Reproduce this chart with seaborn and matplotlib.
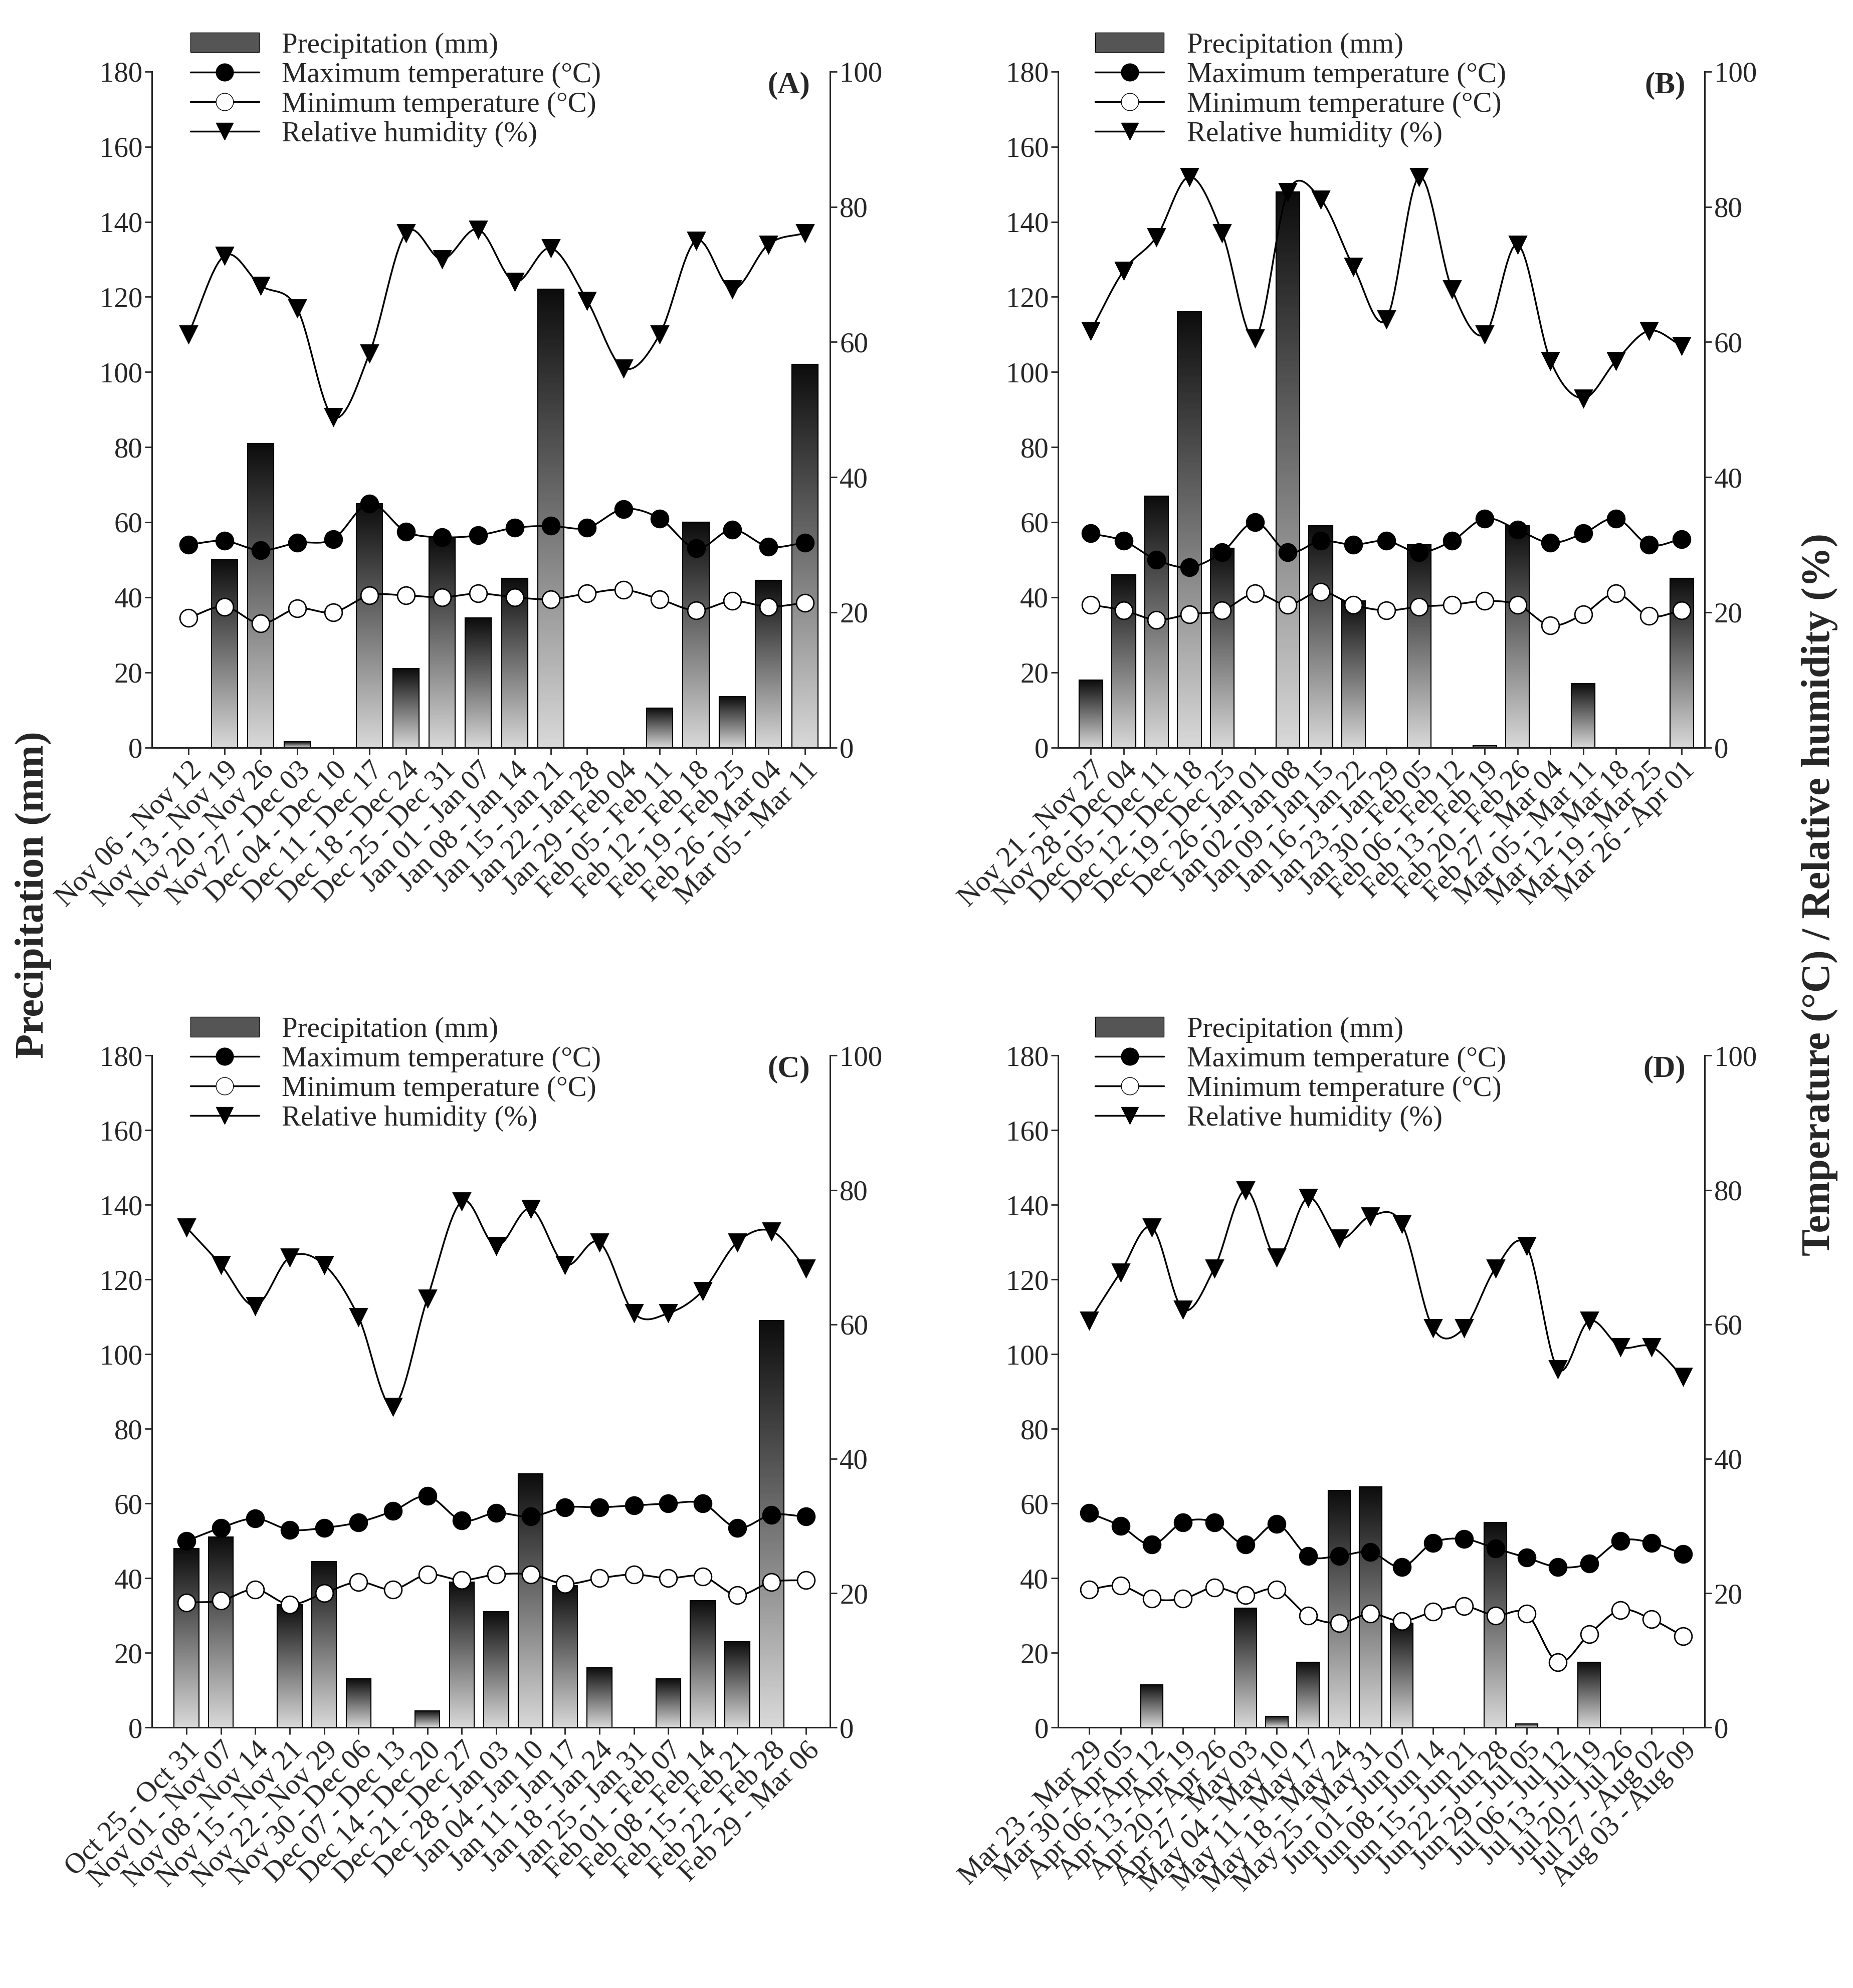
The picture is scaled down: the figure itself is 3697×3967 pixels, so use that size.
import numpy as np
import pandas as pd
import matplotlib
matplotlib.use('Agg')
import matplotlib.pyplot as plt
import seaborn as sns
from matplotlib.lines import Line2D
from matplotlib.patches import Patch

# ---- data (precipitation in mm, temperatures / RH read on left scale then converted) ----
labels_a = ['Nov 06 - Nov 12', 'Nov 13 - Nov 19', 'Nov 20 - Nov 26', 'Nov 27 - Dec 03', 'Dec 04 - Dec 10',
            'Dec 11 - Dec 17', 'Dec 18 - Dec 24', 'Dec 25 - Dec 31', 'Jan 01 - Jan 07', 'Jan 08 - Jan 14',
            'Jan 15 - Jan 21', 'Jan 22 - Jan 28', 'Jan 29 - Feb 04', 'Feb 05 - Feb 11', 'Feb 12 - Feb 18',
            'Feb 19 - Feb 25', 'Feb 26 - Mar 04', 'Mar 05 - Mar 11']
precip_a = [0, 50, 81, 1.5, 0, 65, 21, 56, 34.5, 45, 122, 0, 0, 10.5, 60, 13.5, 44.5, 102]
tmax_a = [54, 55, 52.5, 54.5, 55.5, 65, 57.5, 56, 56.5, 58.5, 59, 58.5, 63.5, 61, 53, 58, 53.5, 54.5]
tmin_a = [34.5, 37.5, 33, 37, 36, 40.5, 40.5, 40, 41, 40, 39.5, 41, 42, 39.5, 36.5, 39, 37.5, 38.5]
rh_a = [110, 131, 123, 117, 88, 105, 137, 130, 138, 124, 133, 119, 101, 110, 135, 122, 134, 137]

labels_b = ['Nov 21 - Nov 27', 'Nov 28 - Dec 04', 'Dec 05 - Dec 11', 'Dec 12 - Dec 18', 'Dec 19 - Dec 25',
            'Dec 26 - Jan 01', 'Jan 02 - Jan 08', 'Jan 09 - Jan 15', 'Jan 16 - Jan 22', 'Jan 23 - Jan 29',
            'Jan 30 - Feb 05', 'Feb 06 - Feb 12', 'Feb 13 - Feb 19', 'Feb 20 - Feb 26', 'Feb 27 - Mar 04',
            'Mar 05 - Mar 11', 'Mar 12 - Mar 18', 'Mar 19 - Mar 25', 'Mar 26 - Apr 01']
precip_b = [18, 46, 67, 116, 53, 0, 148, 59, 39, 0, 54, 0, 0.5, 59, 0, 17, 0, 0, 45]
tmax_b = [57, 55, 50, 48, 52, 60, 52, 55, 54, 55, 52, 55, 61, 58, 54.5, 57, 61, 54, 55.5]
tmin_b = [38, 36.5, 34, 35.5, 36.5, 41, 38, 41.5, 38, 36.5, 37.5, 38, 39, 38, 32.5, 35.5, 41, 35, 36.5]
rh_b = [111, 127, 136, 152, 137, 109, 148, 146, 128, 114, 152, 122, 110, 134, 103, 93, 103, 111, 107]

labels_c = ['Oct 25 - Oct 31', 'Nov 01 - Nov 07', 'Nov 08 - Nov 14', 'Nov 15 - Nov 21', 'Nov 22 - Nov 29',
            'Nov 30 - Dec 06', 'Dec 07 - Dec 13', 'Dec 14 - Dec 20', 'Dec 21 - Dec 27', 'Dec 28 - Jan 03',
            'Jan 04 - Jan 10', 'Jan 11 - Jan 17', 'Jan 18 - Jan 24', 'Jan 25 - Jan 31', 'Feb 01 - Feb 07',
            'Feb 08 - Feb 14', 'Feb 15 - Feb 21', 'Feb 22 - Feb 28', 'Feb 29 - Mar 06']
precip_c = [48, 51, 0, 33, 44.5, 13, 0, 4.5, 39, 31, 68, 38, 16, 0, 13, 34, 23, 109, 0]
tmax_c = [50, 53.5, 56, 53, 53.5, 55, 58, 62, 55.5, 57.5, 56.5, 59, 59, 59.5, 60, 60, 53.5, 57, 56.5]
tmin_c = [33.5, 34, 37, 33, 36, 39, 37, 41, 39.5, 41, 41, 38.5, 40, 41, 40, 40.5, 35.5, 39, 39.5]
rh_c = [134, 124, 113, 126, 124, 110, 86, 115, 141, 129, 139, 124, 130, 111, 111, 117, 130, 133, 123]

labels_d = ['Mar 23 - Mar 29', 'Mar 30 - Apr 05', 'Apr 06 - Apr 12', 'Apr 13 - Apr 19', 'Apr 20 - Apr 26',
            'Apr 27 - May 03', 'May 04 - May 10', 'May 11 - May 17', 'May 18 - May 24', 'May 25 - May 31',
            'Jun 01 - Jun 07', 'Jun 08 - Jun 14', 'Jun 15 - Jun 21', 'Jun 22 - Jun 28', 'Jun 29 - Jul 05',
            'Jul 06 - Jul 12', 'Jul 13 - Jul 19', 'Jul 20 - Jul 26', 'Jul 27 - Aug 02', 'Aug 03 - Aug 09']
precip_d = [0, 0, 11.5, 0, 0, 32, 3, 17.5, 63.5, 64.5, 28, 0, 0, 55, 1, 0, 17.5, 0, 0, 0]
tmax_d = [57.5, 54, 49, 55, 55, 49, 54.5, 46, 46, 47, 43, 49.5, 50.5, 48, 45.5, 43, 44, 50, 49.5, 46.5]
tmin_d = [37, 38, 34.5, 34.5, 37.5, 35.5, 37, 30, 28, 30.5, 28.5, 31, 32.5, 30, 30.5, 17.5, 25, 31.5, 29, 24.5]
rh_d = [109, 122, 134, 112, 123, 144, 126, 142, 131, 137, 135, 107, 107, 123, 129, 96, 109, 102, 102, 94]

FONT = 'Liberation Serif'
sns.set_style('ticks')
plt.rcParams['font.family'] = [FONT, 'DejaVu Serif']

TICK = 41


def smooth(x, y, k=12):
    # Catmull-Rom curve through the points, only for drawing the line
    x = np.asarray(x, float); y = np.asarray(y, float)
    px = np.concatenate([[2 * x[0] - x[1]], x, [2 * x[-1] - x[-2]]])
    py = np.concatenate([[2 * y[0] - y[1]], y, [2 * y[-1] - y[-2]]])
    t = np.linspace(0, 1, k, endpoint=False)[:, None]
    xs, ys = [], []
    for i in range(1, len(px) - 2):
        for p, out in ((px, xs), (py, ys)):
            p0, p1, p2, p3 = p[i - 1], p[i], p[i + 1], p[i + 2]
            v = 0.5 * (2 * p1 + (-p0 + p2) * t + (2 * p0 - 5 * p1 + 4 * p2 - p3) * t ** 2
                       + (-p0 + 3 * p1 - 3 * p2 + p3) * t ** 3)
            out.extend(v.ravel())
    xs.append(x[-1]); ys.append(y[-1])
    return np.array(xs), np.array(ys)


grad = np.linspace(0.05, 0.85, 256)[:, None]


def panel(ax, labels, precip, tmax, tmin, rh, tag):
    n = len(labels)
    df = pd.DataFrame({'week': labels, 'precip': precip})
    sns.barplot(data=df, x='week', y='precip', ax=ax, color='#888888', width=0.72,
                edgecolor='black', linewidth=1.5, zorder=2)
    for p in ax.patches:
        h = p.get_height()
        if h <= 0:
            continue
        x0 = p.get_x(); w = p.get_width()
        im = ax.imshow(grad, cmap='gray', vmin=0, vmax=1, aspect='auto',
                       extent=[x0, x0 + w, 0, h], origin='upper', zorder=2.5)
        im.set_clip_path(p)
        ax.add_patch(plt.Rectangle((x0, 0), w, h, fill=False, ec='black', lw=1.5, zorder=3))
    ax.set_xlim(-1, n - 0.3)
    ax.set_ylim(0, 180)
    ax.set_yticks(range(0, 181, 20))
    ax.set_xlabel(''); ax.set_ylabel('')
    ax.tick_params(axis='both', labelsize=TICK, width=2, length=10)
    ax.set_xticks(range(n))
    ax.set_xticklabels(labels, rotation=45, ha='right', rotation_mode='anchor')
    for s in ax.spines.values():
        s.set_linewidth(2)

    ax2 = ax.twinx()
    ax2.set_ylim(0, 100)
    ax2.set_yticks(range(0, 101, 20))
    ax2.tick_params(axis='y', labelsize=TICK, width=2, length=10)
    ax2.spines['top'].set_visible(False)
    for s in ax2.spines.values():
        s.set_linewidth(2)
    ax.spines['top'].set_visible(False)
    xi = np.arange(n)
    for vals, mk, fc in ((tmax, 'o', 'black'), (tmin, 'o', 'white'), (rh, 'v', 'black')):
        v = np.asarray(vals) * 100 / 180
        sx, sy = smooth(xi, v)
        ax2.plot(sx, sy, color='black', lw=2.5, zorder=4)
        ax2.plot(xi, v, ls='none', marker=mk, ms=25, mfc=fc, mec='black', mew=2, zorder=5)
    ax2.text(0.97, 1.0, tag, transform=ax2.transAxes, ha='right', va='top',
             fontsize=44, fontweight='bold')
    handles = [Patch(facecolor='#555555', edgecolor='black'),
               Line2D([], [], color='black', marker='o', ms=25, mfc='black', lw=2.5),
               Line2D([], [], color='black', marker='o', ms=25, mfc='white', lw=2.5),
               Line2D([], [], color='black', marker='v', ms=25, mfc='black', lw=2.5)]
    ax2.legend(handles, ['Precipitation (mm)', 'Maximum temperature (°C)',
                         'Minimum temperature (°C)', 'Relative humidity (%)'],
               loc='upper left', bbox_to_anchor=(0.04, 1.075), frameon=False, fontsize=41,
               handlelength=2.4, labelspacing=0.12, borderaxespad=0)


fig = plt.figure(figsize=(36.97, 39.67), dpi=100)
ax_a = fig.add_axes([0.082, 0.624, 0.366, 0.340])
ax_b = fig.add_axes([0.571, 0.624, 0.349, 0.340])
ax_c = fig.add_axes([0.082, 0.131, 0.366, 0.338])
ax_d = fig.add_axes([0.571, 0.131, 0.349, 0.338])
panel(ax_a, labels_a, precip_a, tmax_a, tmin_a, rh_a, '(A)')
panel(ax_b, labels_b, precip_b, tmax_b, tmin_b, rh_b, '(B)')
panel(ax_c, labels_c, precip_c, tmax_c, tmin_c, rh_c, '(C)')
panel(ax_d, labels_d, precip_d, tmax_d, tmin_d, rh_d, '(D)')

fig.text(0.018, 0.55, 'Precipitation (mm)', rotation=90, ha='center', va='center',
         fontsize=58, fontweight='bold')
fig.text(0.982, 0.55, 'Temperature (°C) / Relative humidity (%)', rotation=90, ha='center',
         va='center', fontsize=58, fontweight='bold')

fig.savefig('out.png', dpi=100)
